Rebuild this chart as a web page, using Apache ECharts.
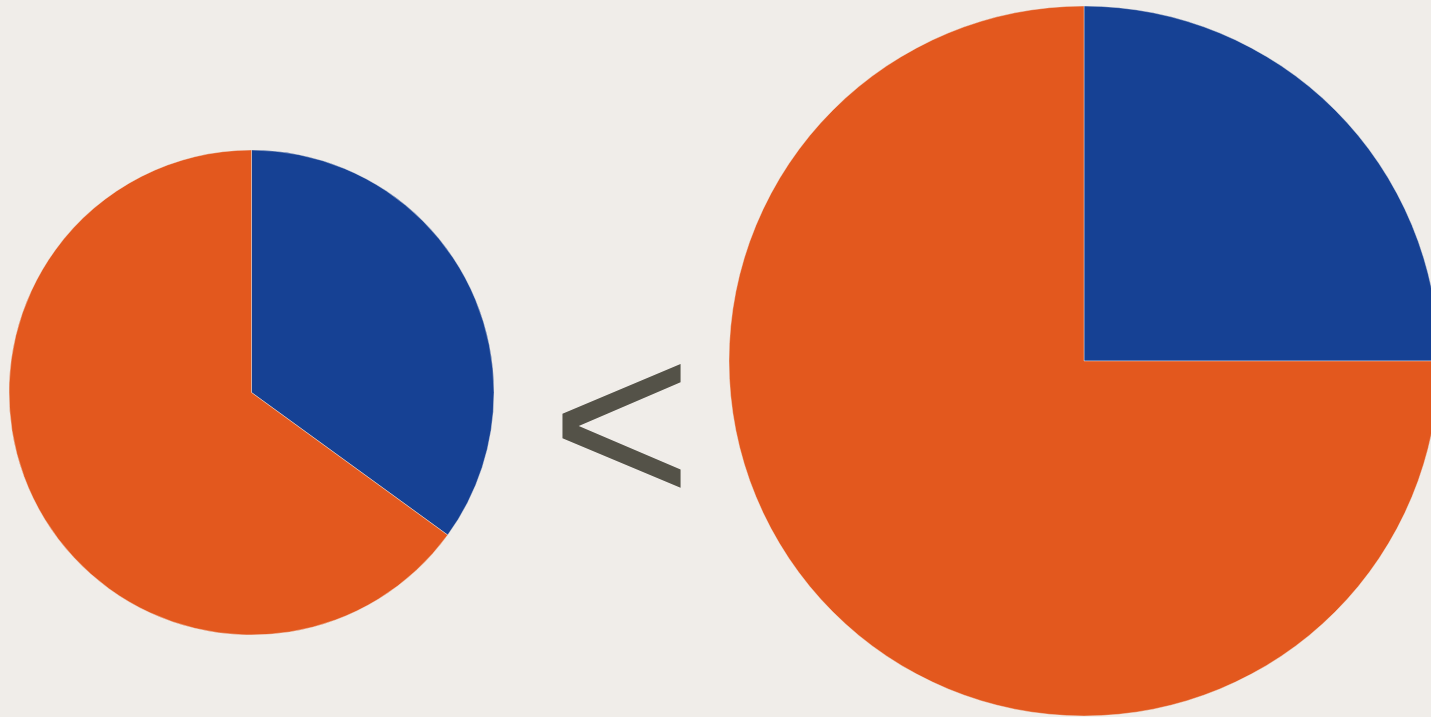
<!DOCTYPE html>
<html><head><meta charset="utf-8">
<script src="https://cdn.jsdelivr.net/npm/echarts@6/dist/echarts.min.js"></script>
<style>html,body{margin:0;padding:0;background:#f0ede9;}#c{width:1431px;height:717px;}</style>
</head><body><div id="c"></div>
<script>
const categories = ['Blue', 'Orange'];
const leftValues = [35, 65];
const rightValues = [25, 75];
const symbolText = '<';
const colors = ['#164194', '#e3581e'];

const chart = echarts.init(document.getElementById('c'), null, {renderer: 'canvas'});
function mk(vals) { return categories.map((n, i) => ({name: n, value: vals[i]})); }
const common = {
  type: 'pie', startAngle: 90, clockwise: true, animation: false, silent: true,
  label: {show: false}, labelLine: {show: false},
  itemStyle: {borderColor: '#f0ede9', borderWidth: 0.4},
  emphasis: {disabled: true}
};
chart.setOption({
  backgroundColor: '#f0ede9',
  color: colors,
  series: [
    Object.assign({}, common, {center: [251.5, 392.5], radius: 242.5, data: mk(leftValues)}),
    Object.assign({}, common, {center: [1084, 361], radius: 355, data: mk(rightValues)})
  ],
  graphic: [{
    type: 'text', left: 550.5, top: 317.5,
    style: {text: symbolText, font: '243px "Liberation Sans"', fill: '#545248'}
  }]
});
</script></body></html>
